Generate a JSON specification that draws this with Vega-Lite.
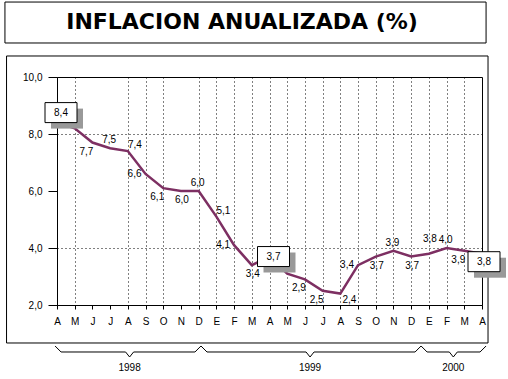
{
  "$schema": "https://vega.github.io/schema/vega-lite/v6.json",
  "width": 425,
  "height": 228,
  "autosize": "none",
  "padding": {"left": 57, "top": 77, "right": 26, "bottom": 74},
  "background": "white",
  "config": {
    "locale": {"number": {"decimal": ",", "thousands": ".", "grouping": [3], "currency": ["", ""]}},
    "view": {"stroke": "black", "strokeWidth": 1},
    "font": "Liberation Sans"
  },
  "datasets": {
    "serie": [
      {"i": 0, "mes": "A", "anio": 1998, "valor": 8.4},
      {"i": 1, "mes": "M", "anio": 1998, "valor": 8.2},
      {"i": 2, "mes": "J", "anio": 1998, "valor": 7.7},
      {"i": 3, "mes": "J", "anio": 1998, "valor": 7.5},
      {"i": 4, "mes": "A", "anio": 1998, "valor": 7.4},
      {"i": 5, "mes": "S", "anio": 1998, "valor": 6.6},
      {"i": 6, "mes": "O", "anio": 1998, "valor": 6.1},
      {"i": 7, "mes": "N", "anio": 1998, "valor": 6.0},
      {"i": 8, "mes": "D", "anio": 1998, "valor": 6.0},
      {"i": 9, "mes": "E", "anio": 1999, "valor": 5.1},
      {"i": 10, "mes": "F", "anio": 1999, "valor": 4.1},
      {"i": 11, "mes": "M", "anio": 1999, "valor": 3.4},
      {"i": 12, "mes": "A", "anio": 1999, "valor": 3.7},
      {"i": 13, "mes": "M", "anio": 1999, "valor": 3.1},
      {"i": 14, "mes": "J", "anio": 1999, "valor": 2.9},
      {"i": 15, "mes": "J", "anio": 1999, "valor": 2.5},
      {"i": 16, "mes": "A", "anio": 1999, "valor": 2.4},
      {"i": 17, "mes": "S", "anio": 1999, "valor": 3.4},
      {"i": 18, "mes": "O", "anio": 1999, "valor": 3.7},
      {"i": 19, "mes": "N", "anio": 1999, "valor": 3.9},
      {"i": 20, "mes": "D", "anio": 1999, "valor": 3.7},
      {"i": 21, "mes": "E", "anio": 2000, "valor": 3.8},
      {"i": 22, "mes": "F", "anio": 2000, "valor": 4.0},
      {"i": 23, "mes": "M", "anio": 2000, "valor": 3.9},
      {"i": 24, "mes": "A", "anio": 2000, "valor": 3.8}
    ],
    "anios": [
      {"anio": "1998", "desde": -0.11, "centro": 4.1, "hasta": 8.13},
      {"anio": "1999", "desde": 8.13, "centro": 14.29, "hasta": 20.56},
      {"anio": "2000", "desde": 20.56, "centro": 22.38, "hasta": 24.23}
    ],
    "marco": [{"titulo": "INFLACION ANUALIZADA (%)"}]
  },
  "data": {"name": "serie"},
  "layer": [
    {
      "mark": {"type": "line", "color": "#7d2f62", "strokeWidth": 2.5},
      "encoding": {
        "x": {"field": "i", "type": "quantitative", "scale": {"domain": [0, 24], "nice": false, "zero": false},
          "axis": {
            "values": [0,1,2,3,4,5,6,7,8,9,10,11,12,13,14,15,16,17,18,19,20,21,22,23,24],
            "tickCount": 25,
            "labelExpr": "['A','M','J','J','A','S','O','N','D','E','F','M','A','M','J','J','A','S','O','N','D','E','F','M','A'][datum.value]",
            "title": null,
            "domainColor": "black",
            "tickColor": "black",
            "tickSize": 4,
            "labelPadding": 7,
            "labelFont": "Liberation Sans",
            "labelFontSize": 10,
            "labelColor": "black",
            "labelFlush": false,
            "labelOverlap": false,
            "grid": true,
            "gridColor": "black",
            "gridDash": [1, 3],
            "gridOpacity": {"condition": {"test": "indexof([0,2,3,7,24], datum.value) >= 0", "value": 0}, "value": 1}
          }},
        "y": {"field": "valor", "type": "quantitative", "scale": {"domain": [2, 10], "nice": false, "zero": false},
          "axis": {
            "values": [2, 4, 6, 8, 10],
            "format": ".1f",
            "title": null,
            "domainColor": "black",
            "tickColor": "black",
            "tickSize": 9,
            "labelPadding": 6,
            "labelFont": "Liberation Sans",
            "labelFontSize": 10,
            "labelColor": "black",
            "labelFlush": false,
            "grid": true,
            "gridColor": "black",
            "gridDash": [1, 3],
            "gridOpacity": {"condition": {"test": "datum.value == 4 || datum.value == 8", "value": 1}, "value": 0}
          }}
      }
    },
    {
      "data": {"name": "marco"},
      "mark": {"type": "rect", "fillOpacity": 0, "stroke": "black", "strokeWidth": 1, "clip": false},
      "encoding": {
        "x": {"datum": -2.85, "type": "quantitative"},
        "x2": {"datum": 24.34},
        "y": {"datum": 10.737, "type": "quantitative"},
        "y2": {"datum": 0.667}
      }
    },
    {
      "data": {"name": "marco"},
      "mark": {"type": "rect", "fillOpacity": 0, "stroke": "black", "strokeWidth": 1, "clip": false},
      "encoding": {
        "x": {"datum": -2.94, "type": "quantitative"},
        "x2": {"datum": 24.23},
        "y": {"datum": 12.63, "type": "quantitative"},
        "y2": {"datum": 11.193}
      }
    },
    {
      "data": {"name": "marco"},
      "mark": {"type": "text", "font": "DejaVu Sans", "fontWeight": "bold", "fontSize": 22, "align": "center", "baseline": "middle", "color": "black", "clip": false},
      "encoding": {
        "x": {"datum": 10.45, "type": "quantitative"},
        "y": {"datum": 11.93, "type": "quantitative"},
        "text": {"field": "titulo"}
      }
    },
    {
      "transform": [{"filter": "indexof([2,6,14,15,23], datum.i) >= 0"}],
      "mark": {"type": "text", "fontSize": 10, "font": "Liberation Sans", "color": "black", "dx": -6, "dy": 9},
      "encoding": {"x": {"field": "i", "type": "quantitative"}, "y": {"field": "valor", "type": "quantitative"}, "text": {"field": "valor", "format": ".1f"}}
    },
    {
      "transform": [{"filter": "indexof([7,11,18,20], datum.i) >= 0"}],
      "mark": {"type": "text", "fontSize": 10, "font": "Liberation Sans", "color": "black", "dx": 1, "dy": 9},
      "encoding": {"x": {"field": "i", "type": "quantitative"}, "y": {"field": "valor", "type": "quantitative"}, "text": {"field": "valor", "format": ".1f"}}
    },
    {
      "transform": [{"filter": "indexof([3,8,19,22], datum.i) >= 0"}],
      "mark": {"type": "text", "fontSize": 10, "font": "Liberation Sans", "color": "black", "dx": -1, "dy": -8},
      "encoding": {"x": {"field": "i", "type": "quantitative"}, "y": {"field": "valor", "type": "quantitative"}, "text": {"field": "valor", "format": ".1f"}}
    },
    {
      "transform": [{"filter": "indexof([4,9], datum.i) >= 0"}],
      "mark": {"type": "text", "fontSize": 10, "font": "Liberation Sans", "color": "black", "dx": 7, "dy": -6},
      "encoding": {"x": {"field": "i", "type": "quantitative"}, "y": {"field": "valor", "type": "quantitative"}, "text": {"field": "valor", "format": ".1f"}}
    },
    {
      "transform": [{"filter": "datum.i == 16"}],
      "mark": {"type": "text", "fontSize": 10, "font": "Liberation Sans", "color": "black", "dx": 9, "dy": 6},
      "encoding": {"x": {"field": "i", "type": "quantitative"}, "y": {"field": "valor", "type": "quantitative"}, "text": {"field": "valor", "format": ".1f"}}
    },
    {
      "transform": [{"filter": "indexof([5,10,17], datum.i) >= 0"}],
      "mark": {"type": "text", "fontSize": 10, "font": "Liberation Sans", "color": "black", "dx": -11, "dy": 0},
      "encoding": {"x": {"field": "i", "type": "quantitative"}, "y": {"field": "valor", "type": "quantitative"}, "text": {"field": "valor", "format": ".1f"}}
    },
    {
      "transform": [{"filter": "datum.i == 21"}],
      "mark": {"type": "text", "fontSize": 10, "font": "Liberation Sans", "color": "black", "dx": 1, "dy": -15},
      "encoding": {"x": {"field": "i", "type": "quantitative"}, "y": {"field": "valor", "type": "quantitative"}, "text": {"field": "valor", "format": ".1f"}}
    },
    {
      "transform": [{"filter": "datum.i == 0"}],
      "mark": {"type": "point", "shape": "M-1,-0.625L1,-0.625L1,0.625L-1,0.625Z", "size": 1024, "filled": true, "fill": "#999999", "strokeWidth": 0, "opacity": 1, "xOffset": 10, "yOffset": -4},
      "encoding": {"x": {"field": "i", "type": "quantitative"}, "y": {"field": "valor", "type": "quantitative"}}
    },
    {
      "transform": [{"filter": "datum.i == 0"}],
      "mark": {"type": "point", "shape": "M-1,-0.625L1,-0.625L1,0.625L-1,0.625Z", "size": 1024, "filled": true, "fill": "white", "stroke": "black", "strokeWidth": 1, "opacity": 1, "xOffset": 4, "yOffset": -10},
      "encoding": {"x": {"field": "i", "type": "quantitative"}, "y": {"field": "valor", "type": "quantitative"}}
    },
    {
      "transform": [{"filter": "datum.i == 0"}],
      "mark": {"type": "text", "fontSize": 10, "font": "Liberation Sans", "color": "black", "dx": 4, "dy": -10},
      "encoding": {"x": {"field": "i", "type": "quantitative"}, "y": {"field": "valor", "type": "quantitative"}, "text": {"field": "valor", "format": ".1f"}}
    },
    {
      "transform": [{"filter": "datum.i == 12"}],
      "mark": {"type": "point", "shape": "M-1,-0.625L1,-0.625L1,0.625L-1,0.625Z", "size": 1024, "filled": true, "fill": "#999999", "strokeWidth": 0, "opacity": 1, "xOffset": 10, "yOffset": 6},
      "encoding": {"x": {"field": "i", "type": "quantitative"}, "y": {"field": "valor", "type": "quantitative"}}
    },
    {
      "transform": [{"filter": "datum.i == 12"}],
      "mark": {"type": "point", "shape": "M-1,-0.625L1,-0.625L1,0.625L-1,0.625Z", "size": 1024, "filled": true, "fill": "white", "stroke": "black", "strokeWidth": 1, "opacity": 1, "xOffset": 4, "yOffset": 0},
      "encoding": {"x": {"field": "i", "type": "quantitative"}, "y": {"field": "valor", "type": "quantitative"}}
    },
    {
      "transform": [{"filter": "datum.i == 12"}],
      "mark": {"type": "text", "fontSize": 10, "font": "Liberation Sans", "color": "black", "dx": 4, "dy": 0},
      "encoding": {"x": {"field": "i", "type": "quantitative"}, "y": {"field": "valor", "type": "quantitative"}, "text": {"field": "valor", "format": ".1f"}}
    },
    {
      "transform": [{"filter": "datum.i == 24"}],
      "mark": {"type": "point", "shape": "M-1,-0.625L1,-0.625L1,0.625L-1,0.625Z", "size": 1024, "filled": true, "fill": "#999999", "strokeWidth": 0, "opacity": 1, "xOffset": 8, "yOffset": 14, "clip": false},
      "encoding": {"x": {"field": "i", "type": "quantitative"}, "y": {"field": "valor", "type": "quantitative"}}
    },
    {
      "transform": [{"filter": "datum.i == 24"}],
      "mark": {"type": "point", "shape": "M-1,-0.625L1,-0.625L1,0.625L-1,0.625Z", "size": 1024, "filled": true, "fill": "white", "stroke": "black", "strokeWidth": 1, "opacity": 1, "xOffset": 2, "yOffset": 8, "clip": false},
      "encoding": {"x": {"field": "i", "type": "quantitative"}, "y": {"field": "valor", "type": "quantitative"}}
    },
    {
      "transform": [{"filter": "datum.i == 24"}],
      "mark": {"type": "text", "fontSize": 10, "font": "Liberation Sans", "color": "black", "dx": 2, "dy": 8},
      "encoding": {"x": {"field": "i", "type": "quantitative"}, "y": {"field": "valor", "type": "quantitative"}, "text": {"field": "valor", "format": ".1f"}}
    },
    {
      "data": {"name": "anios"},
      "mark": {"type": "rule", "color": "black", "strokeWidth": 1, "yOffset": -6, "x2Offset": 6, "clip": false},
      "encoding": {"x": {"field": "desde", "type": "quantitative"}, "x2": {"field": "desde"}, "y": {"datum": 0.351, "type": "quantitative"}, "y2": {"datum": 0.351}}
    },
    {
      "data": {"name": "anios"},
      "mark": {"type": "rule", "color": "black", "strokeWidth": 1, "xOffset": 6, "x2Offset": -4, "clip": false},
      "encoding": {"x": {"field": "desde", "type": "quantitative"}, "x2": {"field": "centro"}, "y": {"datum": 0.351, "type": "quantitative"}, "y2": {"datum": 0.351}}
    },
    {
      "data": {"name": "anios"},
      "mark": {"type": "rule", "color": "black", "strokeWidth": 1, "xOffset": -4, "y2Offset": 5, "clip": false},
      "encoding": {"x": {"field": "centro", "type": "quantitative"}, "x2": {"field": "centro"}, "y": {"datum": 0.351, "type": "quantitative"}, "y2": {"datum": 0.351}}
    },
    {
      "data": {"name": "anios"},
      "mark": {"type": "rule", "color": "black", "strokeWidth": 1, "yOffset": 5, "x2Offset": 4, "clip": false},
      "encoding": {"x": {"field": "centro", "type": "quantitative"}, "x2": {"field": "centro"}, "y": {"datum": 0.351, "type": "quantitative"}, "y2": {"datum": 0.351}}
    },
    {
      "data": {"name": "anios"},
      "mark": {"type": "rule", "color": "black", "strokeWidth": 1, "xOffset": 4, "x2Offset": -6, "clip": false},
      "encoding": {"x": {"field": "centro", "type": "quantitative"}, "x2": {"field": "hasta"}, "y": {"datum": 0.351, "type": "quantitative"}, "y2": {"datum": 0.351}}
    },
    {
      "data": {"name": "anios"},
      "mark": {"type": "rule", "color": "black", "strokeWidth": 1, "xOffset": -6, "y2Offset": -6, "clip": false},
      "encoding": {"x": {"field": "hasta", "type": "quantitative"}, "x2": {"field": "hasta"}, "y": {"datum": 0.351, "type": "quantitative"}, "y2": {"datum": 0.351}}
    },
    {
      "data": {"name": "anios"},
      "mark": {"type": "text", "fontSize": 10, "font": "Liberation Sans", "color": "black", "align": "center", "baseline": "middle", "clip": false},
      "encoding": {"x": {"field": "centro", "type": "quantitative"}, "y": {"datum": -0.21, "type": "quantitative"}, "text": {"field": "anio"}}
    }
  ]
}
